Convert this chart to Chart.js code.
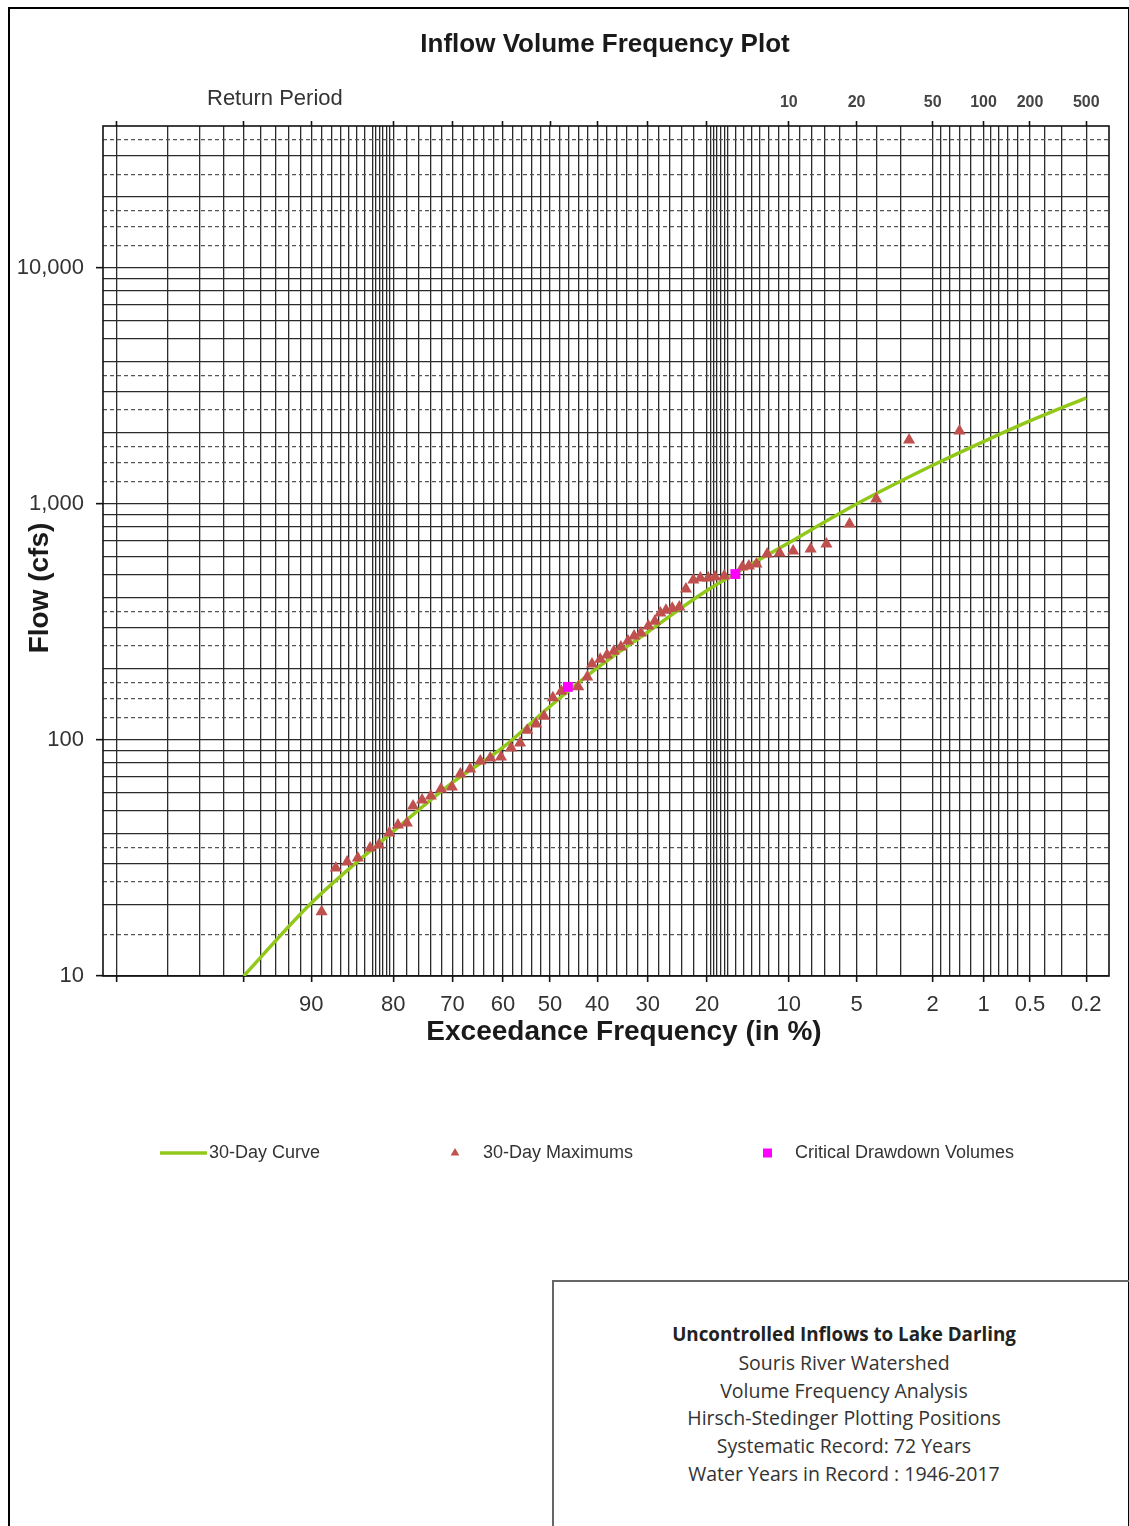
<!DOCTYPE html>
<html>
<head>
<meta charset="utf-8">
<title>Inflow Volume Frequency Plot</title>
<script src="https://cdn.jsdelivr.net/npm/chart.js@4.4.1/dist/chart.umd.min.js"></script>
<style>
    html, body { margin: 0; padding: 0; background: #fff; }
    #page { position: relative; width: 1129px; height: 1526px; overflow: hidden; }
    #frame { position: absolute; left: 8px; top: 7px; width: 1118px; height: 1540px; border: 2px solid #000; }
    #freqChart { position: absolute; left: 0; top: 0; }
    #infoBox {
        position: absolute; left: 552px; top: 1280px; width: 584px; height: 270px;
        border: 2px solid #666; box-sizing: border-box; padding-top: 38px;
        font-family: 'Open Sans', 'Noto Sans', sans-serif; font-size: 19.5px; line-height: 27.8px;
        color: #333; text-align: center;
    }
    #infoBox b { color: #222; font-size: 18.8px; }
</style>
</head>
<body>
<div id="page">
    <div id="frame"></div>
    <canvas id="freqChart" width="1129" height="1200"></canvas>
    <div id="infoBox">
        <b>Uncontrolled Inflows to Lake Darling</b><br>
        Souris River Watershed<br>
        Volume Frequency Analysis<br>
        Hirsch-Stedinger Plotting Positions<br>
        Systematic Record: 72 Years<br>
        Water Years in Record : 1946-2017
    </div>
</div>
<script>
// ---- data (exceedance in %, flow in cfs) ----
const curveExceed = [95, 90, 80, 70, 60, 50, 40, 30, 20, 10, 5, 2, 1, 0.5, 0.2];
const curveFlow   = [10, 20.4, 41, 66, 93, 139, 202, 287, 430, 685, 1000, 1460, 1840, 2250, 2820];

const maxExceed = [89.0, 87.5, 86.2, 84.9, 83.3, 82.1, 80.6, 79.3, 77.9, 76.9,
                   75.4, 73.9, 72.1, 70.1, 68.5, 66.6, 64.6, 62.6, 60.4, 58.3,
                   56.4, 54.9, 53.0, 51.3, 49.4, 47.6, 44.0, 42.1, 41.1, 39.4,
                   38.0, 36.6, 35.2, 33.8, 32.6, 31.3, 29.9, 28.7, 27.7, 26.7,
                   25.6, 24.4, 23.3, 22.1, 21.0, 19.8, 18.8, 17.5, 15.1, 14.3,
                   13.4, 12.2, 10.9, 9.6, 8.1, 6.9, 5.4, 4.0, 2.7, 1.4];
const maxFlow   = [18.7, 28.7, 30.4, 31.6, 34.9, 35.9, 40.4, 43.6, 44.5, 52.5,
                   55.7, 57.9, 62.0, 63.2, 71.8, 75.4, 81.5, 83.9, 84.7, 92.5,
                   97.1, 110, 117, 126, 151, 161, 168, 185, 210, 220,
                   229, 238, 248, 263, 276, 284, 304, 319, 345, 355,
                   362, 366, 436, 476, 486, 486, 491, 495, 541, 546,
                   557, 614, 620, 632, 645, 677, 823, 1050, 1867, 2039];

const criticalExceed = [46.2, 16.0];
const criticalFlow   = [168, 505];

// ---- axis labels ----
const majorExceed   = [99, 95, 90, 80, 70, 60, 50, 40, 30, 20, 10, 5, 2, 1, 0.5, 0.2];
const labeledExceed = [90, 80, 70, 60, 50, 40, 30, 20, 10, 5, 2, 1, 0.5, 0.2];
const returnPeriodExceed = [10, 5, 2, 1, 0.5, 0.2];
const returnPeriodLabels = ['10', '20', '50', '100', '200', '500'];
const flowDecades = [10, 100, 1000, 10000];

const colors = {
    curve: '#92c81a',
    maximums: '#c0504d',
    critical: '#ff00ff',
    grid: '#2b2b2b',
    dashed: '#555555',
    text: '#333333'
};

// inverse standard normal CDF (Acklam)
function normInv(p) {
    const a = [-3.969683028665376e+01, 2.209460984245205e+02, -2.759285104469687e+02,
               1.383577518672690e+02, -3.066479806614716e+01, 2.506628277459239e+00];
    const b = [-5.447609879822406e+01, 1.615858368580409e+02, -1.556989798598866e+02,
               6.680131188771972e+01, -1.328068155288572e+01];
    const c = [-7.784894002430293e-03, -3.223964580411365e-01, -2.400758277161838e+00,
               -2.549732539343734e+00, 4.374664141464968e+00, 2.938163982698783e+00];
    const d = [7.784695709041462e-03, 3.224671290700398e-01, 2.445134137142996e+00,
               3.754408661907416e+00];
    const plow = 0.02425;
    let q, r;
    if (p < plow) {
        q = Math.sqrt(-2 * Math.log(p));
        return (((((c[0]*q+c[1])*q+c[2])*q+c[3])*q+c[4])*q+c[5]) / ((((d[0]*q+d[1])*q+d[2])*q+d[3])*q+1);
    }
    if (p <= 1 - plow) {
        q = p - 0.5; r = q * q;
        return (((((a[0]*r+a[1])*r+a[2])*r+a[3])*r+a[4])*r+a[5])*q / (((((b[0]*r+b[1])*r+b[2])*r+b[3])*r+b[4])*r+1);
    }
    q = Math.sqrt(-2 * Math.log(1 - p));
    return -(((((c[0]*q+c[1])*q+c[2])*q+c[3])*q+c[4])*q+c[5]) / ((((d[0]*q+d[1])*q+d[2])*q+d[3])*q+1);
}

// exceedance % -> position on the probability axis
function zOf(pct) {
    return normInv(1 - pct / 100);
}

function range(from, to, step) {
    const out = [];
    for (let v = from; v >= to - 1e-9; v -= step) out.push(Math.round(v * 10) / 10);
    return out;
}

// probability paper vertical rulings
const gridExceed = [].concat(
    range(99, 84, 1), range(83, 80, 0.5), range(78, 22, 2),
    range(20, 17, 0.5), range(16, 5, 1), [4, 3],
    range(2, 1, 0.2), range(0.9, 0.5, 0.1), [0.4, 0.3, 0.2]
);

// log paper horizontal rulings
const flowSolid = [10];
[10, 100, 1000].forEach(dec => { for (let m = 2; m <= 10; m++) flowSolid.push(m * dec); });
flowSolid.push(20000, 30000);
const flowDashed = [15, 25, 35, 125, 150, 175, 250, 350, 1250, 1500, 1750, 2500, 3500,
                    12500, 15000, 17500, 25000, 35000];

function toPoints(xs, ys) {
    return xs.map((p, i) => ({ x: zOf(p), y: ys[i] }));
}

const FONT = "'Liberation Sans', Arial, sans-serif";

// outline of the plot area
const framePlugin = {
    id: 'frame',
    beforeDatasetsDraw(chart) {
        const a = chart.chartArea;
        const ctx = chart.ctx;
        ctx.save();
        ctx.strokeStyle = '#111';
        ctx.lineWidth = 1.6;
        ctx.strokeRect(a.left, a.top, a.right - a.left, a.bottom - a.top);
        ctx.restore();
    }
};

// titles that sit around the plot
const textPlugin = {
    id: 'texts',
    afterDraw(chart) {
        const ctx = chart.ctx;
        ctx.save();
        ctx.fillStyle = '#1a1a1a';
        ctx.textBaseline = 'middle';
        ctx.textAlign = 'center';
        ctx.font = 'bold 26px ' + FONT;
        ctx.fillText('Inflow Volume Frequency Plot', 605, 45);

        ctx.font = 'bold 28px ' + FONT;
        ctx.fillText('Exceedance Frequency (in %)', 624, 1032);

        ctx.save();
        ctx.translate(40, 588);
        ctx.rotate(-Math.PI / 2);
        ctx.font = 'bold 28px ' + FONT;
        ctx.fillText('Flow (cfs)', 0, 0);
        ctx.restore();

        ctx.fillStyle = colors.text;
        ctx.textAlign = 'left';
        ctx.font = '22px ' + FONT;
        ctx.fillText('Return Period', 207, 99);
        ctx.restore();
    }
};

// legend row under the axis title
const legendPlugin = {
    id: 'rowLegend',
    afterDraw(chart) {
        const ctx = chart.ctx;
        const y = 1153;
        ctx.save();
        ctx.font = '18px ' + FONT;
        ctx.fillStyle = colors.text;
        ctx.textBaseline = 'middle';
        ctx.textAlign = 'left';

        ctx.strokeStyle = colors.curve;
        ctx.lineWidth = 3.5;
        ctx.beginPath();
        ctx.moveTo(160, y);
        ctx.lineTo(207, y);
        ctx.stroke();
        ctx.fillText('30-Day Curve', 209, y);

        ctx.fillStyle = colors.maximums;
        Chart.helpers.drawPoint(ctx, { pointStyle: 'triangle', radius: 5, borderWidth: 0 }, 455, y);
        ctx.fillStyle = colors.text;
        ctx.fillText('30-Day Maximums', 483, y);

        ctx.fillStyle = colors.critical;
        ctx.fillRect(763, y - 4.5, 9, 9);
        ctx.fillStyle = colors.text;
        ctx.fillText('Critical Drawdown Volumes', 795, y);
        ctx.restore();
    }
};

document.addEventListener('DOMContentLoaded', function () {
    const canvas = document.getElementById('freqChart');

    const xMajor = majorExceed.map(zOf);
    const isMajorX = (ctx) => ctx.tick && xMajor.some(z => Math.abs(z - ctx.tick.value) < 1e-6);

    new Chart(canvas, {
        type: 'scatter',
        data: {
            datasets: [
                {
                    label: '30-Day Curve',
                    type: 'line',
                    data: toPoints(curveExceed, curveFlow),
                    borderColor: colors.curve,
                    backgroundColor: colors.curve,
                    borderWidth: 3.5,
                    pointRadius: 0,
                    fill: false,
                    cubicInterpolationMode: 'monotone',
                    order: 3
                },
                {
                    label: '30-Day Maximums',
                    data: toPoints(maxExceed, maxFlow),
                    pointStyle: 'triangle',
                    pointRadius: 7,
                    pointBorderWidth: 0,
                    backgroundColor: colors.maximums,
                    borderColor: colors.maximums,
                    order: 2
                },
                {
                    label: 'Critical Drawdown Volumes',
                    data: toPoints(criticalExceed, criticalFlow),
                    pointStyle: 'rect',
                    pointRadius: 7,
                    pointBorderWidth: 0,
                    backgroundColor: colors.critical,
                    borderColor: colors.critical,
                    order: 1
                }
            ]
        },
        options: {
            responsive: false,
            animation: false,
            layout: { padding: { left: 0, top: 0, right: 20, bottom: 0 } },
            plugins: {
                legend: { display: false },
                title: { display: false },
                tooltip: { enabled: false }
            },
            scales: {
                x: {
                    type: 'linear',
                    position: 'bottom',
                    min: zOf(99.18),
                    max: 3.0,
                    afterFit: (scale) => { scale.height = 224; },
                    afterBuildTicks: (scale) => {
                        scale.ticks = gridExceed.map(p => ({ value: zOf(p), pct: p }));
                    },
                    border: { display: false },
                    grid: {
                        color: colors.grid,
                        lineWidth: 1.3,
                        tickLength: 6,
                        tickWidth: 1.6,
                        tickColor: (ctx) => isMajorX(ctx) ? '#111' : 'rgba(0,0,0,0)'
                    },
                    ticks: {
                        autoSkip: false,
                        maxRotation: 0,
                        minRotation: 0,
                        padding: 10,
                        color: colors.text,
                        font: { family: FONT, size: 22 },
                        callback: function (value, index, ticks) {
                            const p = ticks[index].pct;
                            return labeledExceed.includes(p) ? String(p) : '';
                        }
                    }
                },
                x2: {
                    type: 'linear',
                    position: 'top',
                    min: zOf(99.18),
                    max: 3.0,
                    afterFit: (scale) => { scale.height = 126; },
                    afterBuildTicks: (scale) => {
                        scale.ticks = majorExceed.map(p => ({ value: zOf(p), pct: p }));
                    },
                    border: { display: false },
                    grid: {
                        drawOnChartArea: false,
                        tickLength: 5,
                        tickWidth: 1.6,
                        tickColor: '#111'
                    },
                    ticks: {
                        autoSkip: false,
                        maxRotation: 0,
                        minRotation: 0,
                        padding: 9,
                        color: '#444',
                        font: { family: FONT, size: 16, weight: 'bold' },
                        callback: function (value, index, ticks) {
                            const i = returnPeriodExceed.indexOf(ticks[index].pct);
                            return i >= 0 ? returnPeriodLabels[i] : '';
                        }
                    }
                },
                y: {
                    type: 'logarithmic',
                    min: 10,
                    max: 40000,
                    afterFit: (scale) => { scale.width = 103; },
                    afterBuildTicks: (scale) => {
                        scale.ticks = flowSolid.concat(flowDashed)
                            .sort((a, b) => a - b)
                            .map(v => ({ value: v }));
                    },
                    border: {
                        display: false,
                        dash: (ctx) => (ctx.tick && flowDashed.includes(ctx.tick.value)) ? [4, 3] : []
                    },
                    grid: {
                        color: (ctx) => (ctx.tick && flowDashed.includes(ctx.tick.value)) ? colors.dashed : colors.grid,
                        lineWidth: 1.3,
                        tickLength: 7,
                        tickWidth: 1.6,
                        tickColor: (ctx) => (ctx.tick && flowDecades.includes(ctx.tick.value)) ? '#111' : 'rgba(0,0,0,0)'
                    },
                    ticks: {
                        autoSkip: false,
                        padding: 12,
                        color: colors.text,
                        font: { family: FONT, size: 22 },
                        callback: function (value) {
                            return flowDecades.includes(value) ? value.toLocaleString('en-US') : '';
                        }
                    }
                }
            }
        },
        plugins: [framePlugin, textPlugin, legendPlugin]
    });
});
</script>
</body>
</html>
